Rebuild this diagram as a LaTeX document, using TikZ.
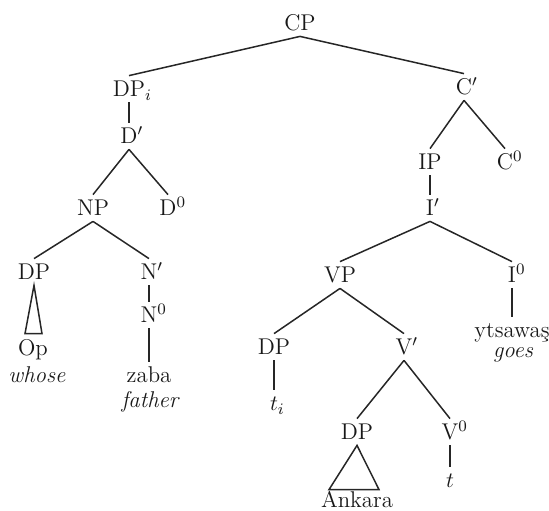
\documentclass[tikz,border=0pt]{standalone}
\usetikzlibrary{calc}
\begin{document}
\begin{tikzpicture}[x=0.5pt,y=-0.5pt,
  lab/.style={inner sep=2.6pt, text height=7.8pt, text depth=0pt, text=black!90,
    font=\fontsize{11.4}{13}\selectfont},
  gl/.style={lab, font=\fontsize{11.4}{13}\selectfont\itshape},
  edge/.style={draw=black!85, line width=0.75pt}]
\useasboundingbox (0,0) rectangle (549,510);
% left branch
\node[lab] (cp) at (300,23) {CP};
\node[lab] (dpi) at (129,89) {DP\rlap{$_i$}};
\node[lab] (dpr) at (129,136) {D\rlap{$'$}};
\node[lab] (np) at (93,208) {NP};
\node[lab] (d0) at (168,208) {D\rlap{$^0$}};
\node[lab] (dp1) at (34,272) {DP};
\node[lab] (npr) at (149,272) {N\rlap{$'$}};
\node[lab] (n0) at (149,315) {N\rlap{$^0$}};
\node[lab] (op) at (33,348) {Op};
\node[gl] (whose) at (37,375) {whose};
\node[lab] (zaba) at (149,375) {zaba};
\node[gl] (father) at (150,400) {father};
% right branch
\node[lab] (cpr) at (464,87) {C\rlap{$'$}};
\node[lab] (ip) at (430,162) {IP};
\node[lab] (c0) at (505,162) {C\rlap{$^0$}};
\node[lab] (ipr) at (430,208) {I\rlap{$'$}};
\node[lab] (vp) at (340,275) {VP};
\node[lab] (i0) at (512,275) {I\rlap{$^0$}};
\node[lab] (yts) at (512,330) {ytsawaş};
\node[gl] (goes) at (513,350) {goes};
\node[lab] (dp2) at (274,347) {DP};
\node[lab] (ti) at (274,403) {$t$\rlap{$_i$}};
\node[lab] (vpr) at (404,347) {V\rlap{$'$}};
\node[lab] (dp3) at (357,432) {DP};
\node[lab] (v0) at (450,432) {V\rlap{$^0$}};
\node[lab] (t) at (450,480) {$t$};
\node[lab] (ank) at (357,500) {Ankara};
% edges
\draw[edge] (cp.south) -- (dpi.north);
\draw[edge] (cp.south) -- (cpr.north);
\draw[edge] (dpi.south) -- (dpr.north);
\draw[edge] (dpr.south) -- (np.north);
\draw[edge] (dpr.south) -- (d0.north);
\draw[edge] (np.south) -- (dp1.north);
\draw[edge] (np.south) -- (npr.north);
\draw[edge] (npr.south) -- (n0.north);
\draw[edge] (n0.south) -- (zaba.north);
\draw[edge] (dp1.south) -- ($(op.north)+(-8,-1)$) -- ($(op.north)+(9,-1)$) -- cycle;
\draw[edge] (cpr.south) -- (ip.north);
\draw[edge] (cpr.south) -- (c0.north);
\draw[edge] (ip.south) -- (ipr.north);
\draw[edge] (ipr.south) -- (vp.north);
\draw[edge] (ipr.south) -- (i0.north);
\draw[edge] (i0.south) -- (yts.north);
\draw[edge] (vp.south) -- (dp2.north);
\draw[edge] (vp.south) -- (vpr.north);
\draw[edge] (dp2.south) -- (ti.north);
\draw[edge] (vpr.south) -- (dp3.north);
\draw[edge] (vpr.south) -- (v0.north);
\draw[edge] (v0.south) -- (t.north);
\draw[edge] (dp3.south) -- ($(ank.north)+(-28,3)$) -- ($(ank.north)+(22,3)$) -- cycle;
\end{tikzpicture}
\end{document}
